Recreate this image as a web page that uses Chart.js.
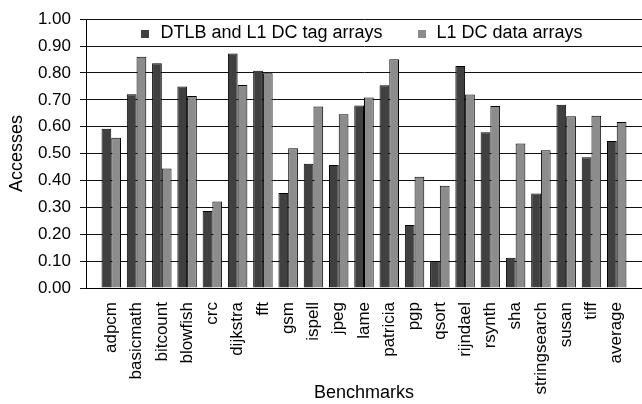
<!DOCTYPE html>
<html>
<head>
<meta charset="utf-8">
<script src="https://cdn.jsdelivr.net/npm/chart.js@4/dist/chart.umd.min.js"></script>
<style>
  html, body { margin: 0; padding: 0; background: #fff; }
  #wrap { width: 642px; height: 404px; }
</style>
</head>
<body>
<div id="wrap"><canvas id="chart"></canvas></div>
<script>
// benchmark names along the x axis
const benchmarks = [
  "adpcm", "basicmath", "bitcount", "blowfish", "crc", "dijkstra", "fft",
  "gsm", "ispell", "jpeg", "lame", "patricia", "pgp", "qsort", "rijndael",
  "rsynth", "sha", "stringsearch", "susan", "tiff", "average"
];
// fraction of accesses
const tagAccesses = [
  0.592, 0.721, 0.836, 0.750, 0.286, 0.872, 0.808, 0.353, 0.462, 0.458, 0.679,
  0.754, 0.234, 0.100, 0.826, 0.579, 0.113, 0.352, 0.682, 0.486, 0.547
];
const dataAccesses = [
  0.559, 0.860, 0.445, 0.714, 0.322, 0.755, 0.799, 0.520, 0.675, 0.646, 0.709,
  0.851, 0.414, 0.380, 0.720, 0.677, 0.538, 0.512, 0.639, 0.641, 0.618
];
const seriesNames = ["DTLB and L1 DC tag arrays", "L1 DC data arrays"];

const FONT = "'Liberation Sans', Arial, sans-serif";

// empty slot on each side so the bars sit away from the axis like in the original
const labels = ["", ...benchmarks, ""];
const pad = (arr) => [null, ...arr, null];

// legend drawn inside the plot, between the 1.00 and 0.90 gridlines
const insideLegend = {
  id: "insideLegend",
  afterDraw(chart) {
    const { ctx, chartArea } = chart;
    ctx.save();
    ctx.font = "18px " + FONT;
    ctx.textBaseline = "alphabetic";
    const box = 8, gap = 11, spacing = 35;
    const items = chart.data.datasets.map((ds) => ({ ds, w: ctx.measureText(ds.label).width }));
    const total = items.reduce((s, it) => s + box + gap + it.w, 0) + spacing * (items.length - 1);
    let x = (chartArea.left + chartArea.right) / 2 - 2 - total / 2;
    const baseY = chartArea.top + 19;
    items.forEach((it) => {
      ctx.fillStyle = it.ds.backgroundColor;
      ctx.fillRect(Math.round(x), Math.round(baseY - 8), box, box);
      ctx.fillStyle = "#000";
      ctx.fillText(it.ds.label, x + box + gap, baseY);
      x += box + gap + it.w + spacing;
    });
    ctx.restore();
  },
};

new Chart(document.getElementById("chart").getContext("2d"), {
  type: "bar",
  data: {
    labels: labels,
    datasets: [
      {
        label: seriesNames[0],
        data: pad(tagAccesses),
        backgroundColor: "#404040",
        borderColor: "#000",
        borderWidth: 1,
      },
      {
        label: seriesNames[1],
        data: pad(dataAccesses),
        backgroundColor: "#8c8c8c",
        borderColor: "#000",
        borderWidth: 1,
      },
    ],
  },
  options: {
    responsive: true,
    maintainAspectRatio: false,
    animation: false,
    layout: { padding: 0 },
    datasets: {
      bar: { categoryPercentage: 0.77, barPercentage: 1.0 },
    },
    plugins: {
      legend: { display: false },
      tooltip: { enabled: false },
    },
    scales: {
      x: {
        offset: false,
        grid: { display: false, drawTicks: false },
        border: { display: true, color: "#000", width: 1 },
        ticks: {
          autoSkip: false,
          minRotation: 90,
          maxRotation: 90,
          padding: 14,
          color: "#000",
          font: { family: FONT, size: 17 },
        },
        title: {
          display: true,
          text: "Benchmarks",
          color: "#000",
          font: { family: FONT, size: 18 },
          padding: { top: 0, bottom: 0 },
        },
        afterFit(scale) {
          scale.height = 116;
          scale.paddingLeft = 0;
          scale.paddingRight = 0;
        },
      },
      y: {
        min: 0,
        max: 1,
        grid: { color: "#111", tickLength: 6 },
        border: { color: "#000", width: 1 },
        ticks: {
          stepSize: 0.1,
          padding: 9,
          color: "#000",
          font: { family: FONT, size: 17 },
          callback: (v) => v.toFixed(2),
        },
        title: {
          display: true,
          text: "Accesses",
          color: "#000",
          font: { family: FONT, size: 18 },
          padding: { top: 6, bottom: 0 },
        },
        afterFit(scale) {
          scale.width = 86;
        },
      },
    },
  },
  plugins: [insideLegend],
});
</script>
</body>
</html>
